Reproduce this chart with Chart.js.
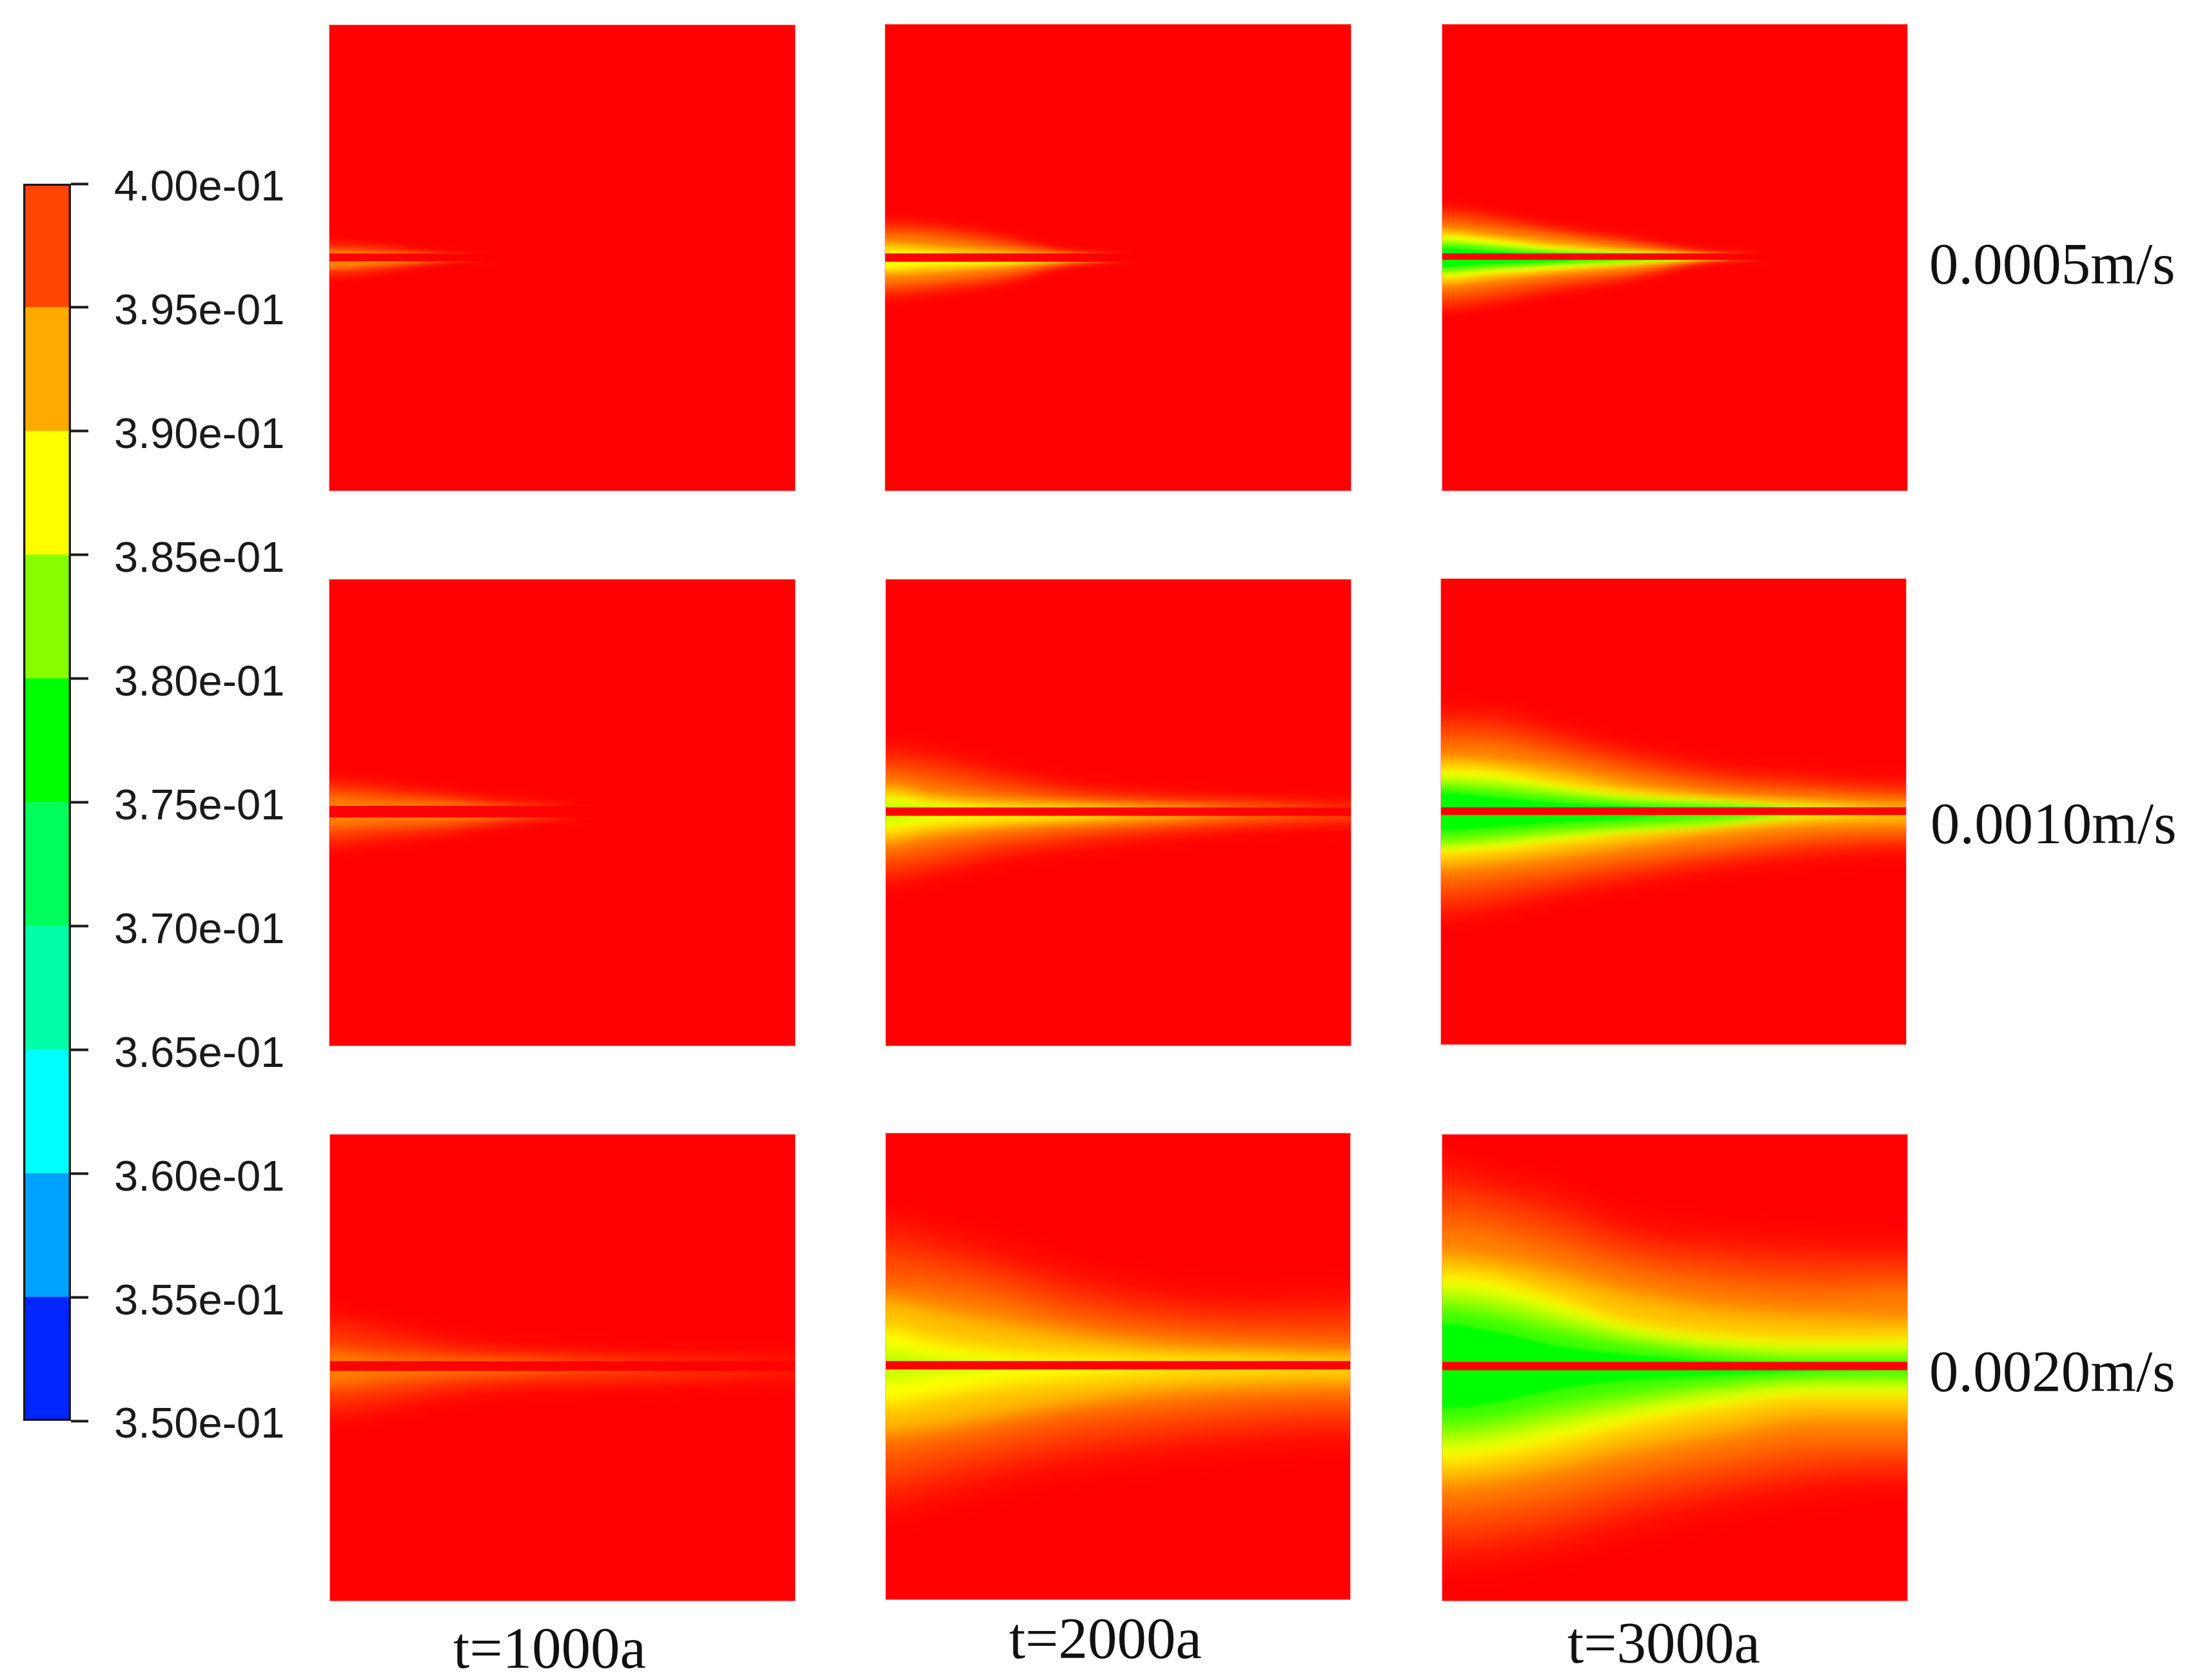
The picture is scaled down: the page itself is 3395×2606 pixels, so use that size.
<!DOCTYPE html>
<html>
<head>
<meta charset="utf-8">
<script src="https://cdn.jsdelivr.net/npm/chart.js@4"></script>
<style>
html,body{margin:0;padding:0;background:#fff;}
#page{position:relative;width:3395px;height:2606px;overflow:hidden;background:#fff;}
canvas{position:absolute;display:block;}
.lab{position:absolute;font-family:"Liberation Serif",serif;font-size:91px;line-height:1;color:#111;white-space:nowrap;}
</style>
</head>
<body>
<div id="page"></div>
<script>
// ---------- DATA ----------
const timeLabels = ["t=1000a", "t=2000a", "t=3000a"];
const velocityLabels = ["0.0005m/s", "0.0010m/s", "0.0020m/s"];
const colorbarTickLabels = ["3.50e-01","3.55e-01","3.60e-01","3.65e-01","3.70e-01","3.75e-01","3.80e-01","3.85e-01","3.90e-01","3.95e-01","4.00e-01"];
const colorbarEdges = [0.350,0.355,0.360,0.365,0.370,0.375,0.380,0.385,0.390,0.395,0.400];
const colorbarColors = ["#0026ff","#00a2ff","#00ffff","#00ffa8","#00ff5a","#00ff00","#88ff00","#ffff00","#ffaa00","#ff4500"];

// distance along the fracture (fraction of the panel width) at which iso-lines were read
const stations = [0, 0.1, 0.25, 0.4, 0.6, 0.8, 1];
// iso-line colours, outermost to innermost
const isoColors = ["#ff3000","#ff5800","#ff8000","#ffc000","#ffff00","#c0ff00","#70ff00","#38ff00","#00ff00"];

// Each array: one row per iso-line, distance from the fracture in % of panel height (null = iso-line absent)
const r1c1Up  = [[3.4,2.7,0.8,0,0,0,0],null,[1.7,1.3,0.6,0,0,0,0],null,null,null,null,null,null];
const r1c1Low = [[4.2,3.4,0.95,0,0,0,0],null,[2.6,1.9,0.7,0,0,0,0],null,null,null,null,null,null];
const r1c2Up  = [[7.8,7.2,4.6,1,0,0,0],[6.2,5.6,3.4,0.8,0,0,0],[4.8,4.2,2.3,0.7,0,0,0],[3.2,2.5,1.4,0.4,0,0,0],[1.7,1.15,0,0,0,0,0],null,null,null,null];
const r1c2Low = [[8.5,7.6,5.5,1.3,0,0,0],[6.8,6,4.3,1.1,0,0,0],[5.5,4.8,3.2,0.9,0,0,0],[3.7,3.2,2,0.7,0,0,0],[2.5,1.8,1.3,0.4,0,0,0],null,null,null,null];
const r1c3Up  = [[10.6,9.2,6.2,3.9,0.4,0,0],[8.8,7.6,5.2,3.1,0.35,0,0],[7.2,6.2,4.4,2.5,0.3,0,0],[5.8,4.8,3,1.6,0.25,0,0],[4.6,3.7,1.85,0.8,0,0,0],[3.8,3,1.5,0.7,0,0,0],[3,2.3,1.15,0.6,0,0,0],[2.4,1.7,0.6,0,0,0,0],[1.75,1.2,0,0,0,0,0]];
const r1c3Low = [[11.5,10.2,7.4,5,0.5,0,0],[9.3,8.2,5.9,4,0.45,0,0],[7.6,6.5,4.6,3.2,0.4,0,0],[6,5,3.5,2.2,0.35,0,0],[4.6,3.7,2.5,1.4,0.25,0,0],[3.9,3.1,2,1.2,0,0,0],[3.2,2.5,1.6,1,0,0,0],[2.7,2,1.3,0.5,0,0,0],[2.2,1.6,1,0,0,0,0]];

const r2c1Up  = [[6.6,5.7,3.6,1.7,0,0,0],[4.5,3.8,2.5,0.9,0,0,0],[3,2.3,1.7,0.4,0,0,0],null,null,null,null,null,null];
const r2c1Low = [[7.4,6.2,4.4,1.8,0,0,0],[4.8,4,3,1.2,0,0,0],[3,2.5,1.9,0.8,0,0,0],null,null,null,null,null,null];
const r2c2Up  = [[13.4,12,8.3,5,2.8,1.6,1],[10,8.8,5.8,3.4,1.9,1,0],[7.8,6,3.7,2.3,1.3,0.9,0],[5.5,3.5,2.1,1.4,0.9,0,0],[3.5,2.1,1.2,0.85,0,0,0],[2,1,0,0,0,0,0],null,null,null];
const r2c2Low = [[14.8,12.9,9.2,7,4.6,2.6,1.4],[11.5,9.8,6.9,5,3.2,1.8,1],[8.8,7,4.8,3.5,2.1,1.2,0.9],[6.5,4.8,3.2,2.1,1.3,0,0],[4.2,2.8,1.8,1.2,0,0,0],[2.2,1,0,0,0,0,0],null,null,null];
const r2c3Up  = [[21,20.8,17,13,8.8,6.9,5.5],[17.5,17.2,14,10.4,6.7,5,3.8],[14.5,14.3,11.5,8.3,5,3.7,2.8],[11.5,11,8.8,5.8,3.2,2.1,1.4],[9.2,8.8,6,3.7,2.1,0.9,0],[7.6,7.1,5,3,1.7,0.6,0],[6,5.5,3.9,2.3,1.4,0,0],[5,4.3,2.8,1.7,0.9,0,0],[3.9,3.2,1.8,1.1,0,0,0]];
const r2c3Low = [[22,20.8,17.5,14.8,11.5,9.2,7.8],[18.2,17,14.7,12.2,9.3,6.9,5.8],[14.8,13.9,12.2,10,7.4,5,4.4],[12,11.3,9.5,7.4,4.6,2.8,2.5],[9.2,8.5,6.7,4.8,2.8,1,0],[8,7.3,5.6,4.1,2.5,0.7,0],[6.9,6.2,4.6,3.5,2.3,0,0],[5.5,4.8,3.5,2.5,1.2,0,0],[4.2,3.5,2.5,1.6,0,0,0]];

const r3c1Up  = [[10,8.2,5,3.1,1.8,1.3,1],[4.5,3.5,2,1.3,0.9,0,0],[2.8,1.5,0.9,0.5,0,0,0],null,null,null,null,null,null];
const r3c1Low = [[10.2,8.9,6,4.2,3.3,2.4,2],[5.8,4.8,3,2,1.5,1.1,0],[3.8,2.6,1.5,0.9,0,0,0],null,null,null,null,null,null];
const r3c2Up  = [[30,27.3,23,18.4,14.2,12.7,13.5],[23,21.5,18,13.5,10,8.5,8.2],[17,16.3,13.6,9.4,6.7,5.3,4.6],[14,12,9,6.5,4,3,2.2],[8,5.5,3.2,2,1.2,0.9,0.6],[3.4,1.6,0.6,0,0,0,0],null,null,null];
const r3c2Low = [[29.5,27,23,20,17.4,15.3,14.3],[23,21,18,15,12.5,10.8,10],[17.4,16,13.3,10.5,8.5,7,6.4],[14,13,10.5,8,5.5,4.3,3.8],[8.5,7,4.5,3,1.6,1,0.7],[3.4,1.9,0.6,0,0,0,0],null,null,null];
const r3c3Up  = [[42,39,35.6,29,26.6,25,24.6],[35.5,34,29.6,24.5,21.5,20,20],[30,28.7,24.6,20.4,17,15.6,16.3],[24,23,19.7,15.6,12.2,10.8,10.1],[19.8,19,14.6,9.4,6.7,5.8,6],[17,16,12,7.7,5,4,4],[14.2,13,9.4,6,3.2,2.2,2.2],[11.6,10.3,6.8,4.2,2,1,1],[9.1,7.7,4.3,2.5,1,0,0]];
const r3c3Low = [[40.8,40,37.4,33,28.4,25,23.6],[35,34,31.5,27.5,23.5,20.5,19.5],[29.8,29,26.4,22.9,19,16,16],[25,24.3,21.5,18,14.3,11.2,11.2],[20.8,19.8,16.7,12.9,9.1,6.7,6.7],[17.7,16.7,13.6,10.3,6.9,4.8,4.8],[14.6,13.6,10.5,7.8,4.7,3,3],[11.8,10.8,7.7,5.4,3.3,1.9,1.5],[9.1,8.1,5,3,1.9,0.9,0]];

const panelUp  = [[r1c1Up,r1c2Up,r1c3Up],[r2c1Up,r2c2Up,r2c3Up],[r3c1Up,r3c2Up,r3c3Up]];
const panelLow = [[r1c1Low,r1c2Low,r1c3Low],[r2c1Low,r2c2Low,r2c3Low],[r3c1Low,r3c2Low,r3c3Low]];

// ---------- LAYOUT / STYLE ----------
const panelRects = [
  [[511,39,722,722],[1373,38,722,723],[2237,38,721,723]],
  [[511,899,722,723],[1374,899,721,723],[2235,898,721,722]],
  [[512,1760,721,723],[1374,1758,720,723],[2237,1760,721,723]]
];
const fractureFromTop = [[49.9,50,49.8],[49.8,49.8,49.9],[49.65,49.75,49.65]]; // %
const fractureWidth = [[12,13,10],[18,13,12],[15,13,13]];
const panelBlur = [[2.5,3.5,3.5],[5,7,7],[7,11,11]];
const levelBlur = [2.4,1.8,1.4,1.1,1.1,1,0.9,0.7,0.2];

const rowLabelPos = [[2992,440],[2994,1308],[2992,2158]];   // left, baseline
const colLabelPos = [[703,2587],[1565,2572],[2431,2579]];

// ---------- ENGINE ----------
const filler = Chart.registry.plugins.get('filler');
Chart.unregister(filler);
const contourBlur = {
  id:'contourBlur',
  beforeDatasetDraw(chart,args){
    const b = chart.data.datasets[args.index].blurPx;
    if(b) chart.ctx.filter = 'blur('+b+'px)';
  },
  afterDatasetDraw(chart){ chart.ctx.filter='none'; }
};
Chart.register(contourBlur, filler);

const page = document.getElementById('page');
function addCanvas(l,t,w,h){
  const c=document.createElement('canvas');
  c.width=w;c.height=h;
  c.style.left=l+'px';c.style.top=t+'px';c.style.width=w+'px';c.style.height=h+'px';
  page.appendChild(c);return c;
}
function curve(values,sign){
  // the first and last reading are carried past the panel edge so the edges stay clean
  const pts=stations.map((x,i)=>({x,y:sign*values[i]}));
  pts.unshift({x:-0.2,y:sign*values[0]});
  pts.push({x:1.2,y:sign*values[values.length-1]});
  return pts;
}
function panel(r,c){
  const [l,t,w,h]=panelRects[r][c];
  const cv=addCanvas(l,t,w,h);
  cv.style.background='#ff0000';
  cv.style.outline='1px solid rgba(255,90,90,.55)';
  const f=fractureFromTop[r][c];
  const ds=[{type:'scatter',showLine:true,data:[{x:0,y:0},{x:1,y:0}],borderColor:'#ff0000',borderWidth:fractureWidth[r][c],pointRadius:0,fill:false,borderCapStyle:'butt'}];
  for(let k=isoColors.length-1;k>=0;k--){
    const up=panelUp[r][c][k],low=panelLow[r][c][k];
    if(!up||!low) continue;
    const idx=ds.length;
    ds.push({showLine:true,data:curve(up,1),borderWidth:0,pointRadius:0,cubicInterpolationMode:'monotone',
      fill:idx+1,backgroundColor:isoColors[k],blurPx:panelBlur[r][c]*levelBlur[k]});
    ds.push({showLine:true,data:curve(low,-1),borderWidth:0,pointRadius:0,cubicInterpolationMode:'monotone',fill:false});
  }
  new Chart(cv,{type:'scatter',data:{datasets:ds},options:{
    responsive:false,animation:false,devicePixelRatio:1,
    layout:{padding:0},
    plugins:{legend:{display:false},tooltip:{enabled:false},title:{display:false}},
    scales:{
      x:{type:'linear',display:false,min:0,max:1},
      y:{type:'linear',display:false,min:-(100-f),max:f}
    }
  }});
}
for(let r=0;r<3;r++)for(let c=0;c<3;c++)panel(r,c);

// colour bar
(function(){
  const cv=addCanvas(0,195,440,2100);
  const ds=[{data:[[colorbarEdges[0],colorbarEdges[10]]],backgroundColor:'rgba(0,0,0,0)',borderColor:'#1a1a1a',borderWidth:3,borderSkipped:false}];
  colorbarColors.forEach((col,i)=>ds.push({data:[[colorbarEdges[i],colorbarEdges[i+1]]],backgroundColor:col,borderWidth:0}));
  new Chart(cv,{type:'bar',data:{labels:[''],datasets:ds},options:{
    responsive:false,animation:false,devicePixelRatio:1,
    layout:{padding:{left:36,top:90,bottom:91,right:0}},
    datasets:{bar:{grouped:false,barPercentage:1,categoryPercentage:1}},
    plugins:{legend:{display:false},tooltip:{enabled:false},title:{display:false}},
    scales:{
      x:{display:false},
      y:{position:'right',min:0.35,max:0.40,
        afterBuildTicks(s){s.ticks=colorbarEdges.map(v=>({value:v}));},
        afterFit(s){s.width=330;},
        grid:{display:true,drawOnChartArea:false,drawTicks:true,tickLength:27,tickWidth:4,tickColor:'#1a1a1a'},
        border:{display:false},
        ticks:{autoSkip:false,maxRotation:0,padding:40,labelOffset:8,color:'#1a1a1a',
          font:{family:'"Liberation Sans",Arial,sans-serif',size:67},
          callback:(v,i)=>colorbarTickLabels[i]}
      }
    }
  }});
})();

// text labels
function addLabel(txt,left,baseline){
  const d=document.createElement('div');d.className='lab';d.textContent=txt;
  d.style.left=left+'px';d.style.top=(baseline-76)+'px';page.appendChild(d);
}
velocityLabels.forEach((t,i)=>addLabel(t,rowLabelPos[i][0],rowLabelPos[i][1]));
timeLabels.forEach((t,i)=>addLabel(t,colLabelPos[i][0],colLabelPos[i][1]));
</script>
</body>
</html>
